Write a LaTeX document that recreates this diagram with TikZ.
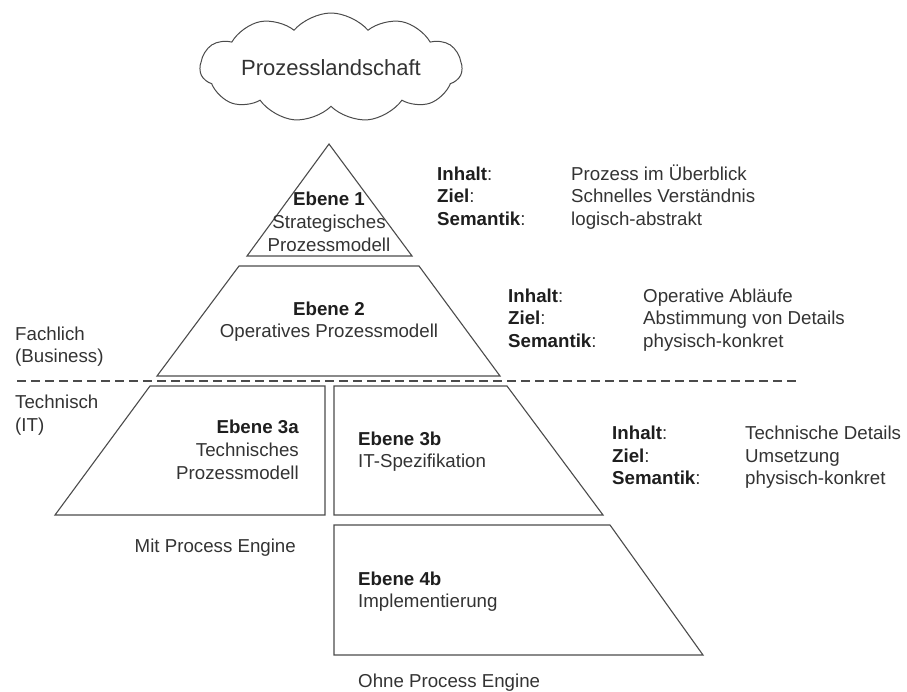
\documentclass[tikz,border=0pt]{standalone}
\usepackage{fontspec}
\setmainfont{Liberation Sans}
\usetikzlibrary{shapes.symbols}
\definecolor{edge}{RGB}{75,75,75}
\definecolor{ink}{RGB}{51,51,51}
\definecolor{inkb}{RGB}{30,30,30}
\newcommand{\lbl}[1]{\textcolor{inkb}{\textbf{#1}}}
\begin{document}
\begin{tikzpicture}[x=1pt,y=-1pt,
  lvl/.style={draw=edge,line width=1.1pt,line join=miter},
  txt/.style={inner sep=0pt,text=ink,font=\fontsize{18.7}{22.5}\selectfont},
  tl/.style={txt,anchor=base west},
  tc/.style={txt,anchor=base},
  tr/.style={txt,anchor=base east}]
\useasboundingbox (0,0) rectangle (907,691);

% cloud on top
\node[cloud,draw=edge,line width=1pt,cloud puffs=11,cloud puff arc=100,
      cloud ignores aspect,minimum width=262pt,minimum height=109pt,inner sep=0pt,
      text=ink,font=\fontsize{22}{26}\selectfont] (land) at (331,67.5) {Prozesslandschaft};

% pyramid levels
\draw[lvl] (329,144) -- (412,256) -- (247,256) -- cycle;
\draw[lvl] (239,266) -- (419,266) -- (500,376) -- (157,376) -- cycle;
\draw[lvl] (150,386) -- (325,386) -- (325,515) -- (55,515) -- cycle;
\draw[lvl] (334,386) -- (507,386) -- (603,515) -- (334,515) -- cycle;
\draw[lvl] (334,525) -- (610,525) -- (703,655) -- (334,655) -- cycle;

% separator business / IT
\coordinate (sepL) at (17,381);
\coordinate (sepR) at (797,381);
\draw[edge,line width=1.2pt,dash pattern=on 9pt off 5pt] (sepL) -- (sepR);

% level captions
\node[tc] (e1a) at (329,205) {\lbl{Ebene 1}};
\node[tc] (e1b) at (329,228) {Strategisches};
\node[tc] (e1c) at (329,251) {Prozessmodell};
\node[tc] (e2a) at (329,315) {\lbl{Ebene 2}};
\node[tc] (e2b) at (329,337.5) {Operatives Prozessmodell};
\node[tr] (e3a) at (299,433.5) {\lbl{Ebene 3a}};
\node[tr] (e3b) at (299,456.5) {Technisches};
\node[tr] (e3c) at (299,479) {Prozessmodell};
\node[tl] (f3a) at (358,445) {\lbl{Ebene 3b}};
\node[tl] (f3b) at (358,467.5) {IT-Spezifikation};
\node[tl] (f4a) at (358,585) {\lbl{Ebene 4b}};
\node[tl] (f4b) at (358,607.5) {Implementierung};

% side labels
\node[tl] (fa) at (15,340) {Fachlich};
\node[tl] (fb) at (15,362.5) {(Business)};
\node[tl] (ta) at (15,408.5) {Technisch};
\node[tl] (tb) at (15,431) {(IT)};
\node[tr] (mit) at (296,552) {Mit Process Engine};
\node[tl] (ohne) at (358,687) {Ohne Process Engine};

% descriptions
\node[tl] (i1a) at (437,180) {\lbl{Inhalt}:};
\node[tl] (i1b) at (437,202.5) {\lbl{Ziel}:};
\node[tl] (i1c) at (437,225) {\lbl{Semantik}:};
\node[tl] (v1a) at (571,180) {Prozess im Überblick};
\node[tl] (v1b) at (571,202.5) {Schnelles Verständnis};
\node[tl] (v1c) at (571,225) {logisch-abstrakt};

\node[tl] (i2a) at (508,302) {\lbl{Inhalt}:};
\node[tl] (i2b) at (508,324.5) {\lbl{Ziel}:};
\node[tl] (i2c) at (508,347) {\lbl{Semantik}:};
\node[tl] (v2a) at (643,302) {Operative Abläufe};
\node[tl] (v2b) at (643,324.5) {Abstimmung von Details};
\node[tl] (v2c) at (643,347) {physisch-konkret};

\node[tl] (i3a) at (612,439.5) {\lbl{Inhalt}:};
\node[tl] (i3b) at (612,462) {\lbl{Ziel}:};
\node[tl] (i3c) at (612,484.5) {\lbl{Semantik}:};
\node[tl] (v3a) at (745,439.5) {Technische Details};
\node[tl] (v3b) at (745,462) {Umsetzung};
\node[tl] (v3c) at (745,484.5) {physisch-konkret};
\end{tikzpicture}
\end{document}
